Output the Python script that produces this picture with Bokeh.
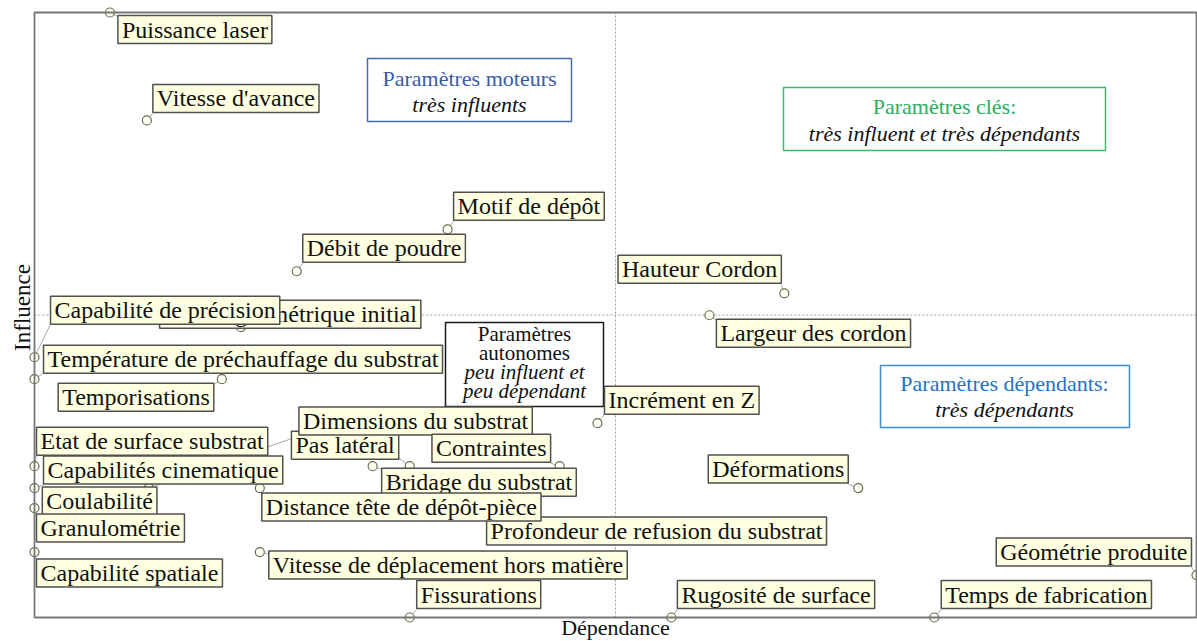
from math import pi
from bokeh.plotting import figure
from bokeh.models import Range1d, Label, BoxAnnotation
from bokeh.embed import file_html
from bokeh.resources import INLINE

# ---------------- data ----------------
names = [
    "Puissance laser", "Vitesse d'avance", "Motif de dépôt", "Débit de poudre",
    "Hauteur Cordon", "Largeur des cordon", "Défaut géométrique initial",
    "Capabilité de précision", "Température de préchauffage du substrat",
    "Temporisations", "Incrément en Z", "Pas latéral", "Dimensions du substrat",
    "Contraintes", "Bridage du substrat", "Etat de surface substrat",
    "Capabilités cinematique", "Coulabilité", "Granulométrie",
    "Capabilité spatiale", "Profondeur de refusion du substrat",
    "Distance tête de dépôt-pièce", "Vitesse de déplacement hors matière",
    "Déformations", "Géométrie produite", "Fissurations",
    "Rugosité de surface", "Temps de fabrication",
]
dependance = [6.49, 9.67, 35.55, 22.57, 64.53, 58.08, 17.76, 0.0, 0.0, 16.12,
              48.45, 32.29, 9.85, 45.19, 29.10, 0.0, 0.0, 9.85, 0.0, 0.0,
              37.53, 19.39, 19.39, 70.89, 100.0, 32.29, 54.81, 77.43]
influence = [100.0, 82.16, 64.16, 57.23, 53.59, 49.96, 47.98, 43.02, 39.39, 39.39,
             32.12, 25.02, 21.39, 25.02, 25.02, 25.02, 21.39, 21.39, 18.08, 10.82,
             17.42, 21.39, 10.82, 21.39, 7.02, 0.0, 0.0, 0.0]

# ---------------- layout (pixels) ----------------
# label box corner offset from its point, box alignment, leader end offset
box_dx = [8, 6, 6, 6, -3, 7, 180, 16, 9, -8, 7, -11, 150, -9, 9, 2, 9, 8, 2, 2,
          16, 2, 9, -10, -5, 7, 6, 7]
box_dy = [4, -35, -36, -36, -37, 5, -26, -60, -33, 5, -36, -34, -80, -31, 3, -38,
          -31, 0, 7, 8, 6, 6, 0, -32, -36, -36, -36, -36]
box_align = ["left", "left", "left", "left", "right", "left", "right", "left",
             "left", "right", "left", "right", "left", "right", "left", "left",
             "left", "right", "left", "left", "left", "left", "left", "right",
             "right", "left", "left", "left"]
lead_dx = [8, 6, 6, 6, -3, 7, None, 16, 9, -8, 7, -11, 150, -9, 9, 2, 9, None, 2, 2,
           16, 2, 9, -10, -5, 7, 6, 7]
lead_dy = [4, -7, -8, -8, -9, 5, None, -33, -6, 5, -9, -8, -52, -3, 3, -11, -3, None,
           7, 8, 6, 6, 2, -4, -8, -8, -8, -8]

W, H = 1197, 641
# the frame spans the whole canvas; the data square sits inside these margins
PL, PR, PT, PB = 34, 1, 12, 24
sx = (W - PL - PR) / 100.0
sy = (H - PT - PB) / 100.0
PADX, PADY = 4, 1

SERIF = "Liberation Serif"
X0, Y0 = PL, H - PB   # canvas pixel of data (0, 0)


def ref_x(px):
    return (px - X0) / sx


def ref_y(py):
    return (Y0 - py) / sy


p = figure(width=W, height=H,
           x_range=Range1d(-PL / sx, 100 + PR / sx),
           y_range=Range1d(-PB / sy, 100 + PT / sy),
           x_axis_location=None, y_axis_location=None,
           toolbar_location=None, output_backend="svg", title=None,
           min_border_left=0, min_border_right=0,
           min_border_top=0, min_border_bottom=0)
p.outline_line_color = None
p.grid.visible = False
p.background_fill_color = "white"
p.border_fill_color = "white"

# quadrant dividing lines
p.segment(x0=[50, 0], y0=[0, 50], x1=[50, 100], y1=[100, 50],
          line_color="#9a9a9a", line_width=1, line_dash="2 2")

# leader lines
lx0, ly0, lx1, ly1 = [], [], [], []
for i in range(len(names)):
    if lead_dx[i] is None:
        continue
    lx0.append(dependance[i])
    ly0.append(influence[i])
    lx1.append(dependance[i] + lead_dx[i] / sx)
    ly1.append(influence[i] - lead_dy[i] / sy)
p.segment(x0=lx0, y0=ly0, x1=lx1, y1=ly1, line_color="#a8a8a8", line_width=1)

# points
p.scatter(x=dependance, y=influence, marker="circle", size=9,
          fill_color="#FFFFF2", line_color="#6c6c58", line_width=1.2)

# plot frame
p.add_layout(BoxAnnotation(left=0, right=100, bottom=0, top=100,
                           fill_color=None, fill_alpha=0,
                           line_color="#767676", line_alpha=1.0, line_width=1.8))

# quadrant boxes
quad_boxes = [
    (367, 58, 571, 121, "#4a68ad"),
    (783, 87, 1105, 150, "#3cb86a"),
    (880, 365, 1129, 427, "#3a8fd6"),
    (445, 322, 603, 406, "#1a1a1a"),
]
for l, t, r, b, c in quad_boxes:
    p.add_layout(BoxAnnotation(left=ref_x(l), right=ref_x(r), top=ref_y(t), bottom=ref_y(b),
                               fill_color="white", fill_alpha=1.0,
                               line_color=c, line_alpha=1.0, line_width=1.5))

quad_text = [
    ("Paramètres moteurs", 469, 78, "#3a5ca6", "normal", "22px"),
    ("très influents", 469, 104, "#111111", "italic", "22px"),
    ("Paramètres clés:", 944, 106, "#2aae5e", "normal", "22px"),
    ("très influent et très dépendants", 944, 133, "#111111", "italic", "22px"),
    ("Paramètres dépendants:", 1004, 383, "#1f73c4", "normal", "22px"),
    ("très dépendants", 1004, 409, "#111111", "italic", "22px"),
    ("Paramètres", 524, 333, "#111111", "normal", "21px"),
    ("autonomes", 524, 352, "#111111", "normal", "21px"),
    ("peu influent et", 524, 371, "#111111", "italic", "21px"),
    ("peu dépendant", 524, 390, "#111111", "italic", "21px"),
]
for txt, cx, cy, c, st, fs in quad_text:
    p.add_layout(Label(x=ref_x(cx), y=ref_y(cy), text=txt, text_align="center",
                       text_baseline="middle", text_font=SERIF, text_font_size=fs,
                       text_font_style=st, text_color=c))

# point labels (the box corner sits on the anchor, the text is padded inside)
for i, name in enumerate(names):
    tx = dependance[i] + box_dx[i] / sx
    ty = influence[i] - (box_dy[i] - 1) / sy
    p.add_layout(Label(x=tx, y=ty, text=name, text_align=box_align[i], text_baseline="top",
                       text_font=SERIF, text_font_size="24px", text_color="#111111",
                       background_fill_color="#FFFFE1", background_fill_alpha=1.0,
                       border_line_color="#505050", border_line_width=1.5,
                       padding=(PADX, PADY)))

# axis titles
p.add_layout(Label(x=50, y=ref_y(627), text="Dépendance", text_align="center",
                   text_baseline="middle", text_font=SERIF,
                   text_font_size="22px", text_color="#111111"))
p.add_layout(Label(x=ref_x(22), y=ref_y(307), text="Influence", text_align="center",
                   text_baseline="middle", angle=pi / 2, text_font=SERIF,
                   text_font_size="23px", text_color="#111111"))

open("out.html", "w").write(file_html(p, INLINE))
